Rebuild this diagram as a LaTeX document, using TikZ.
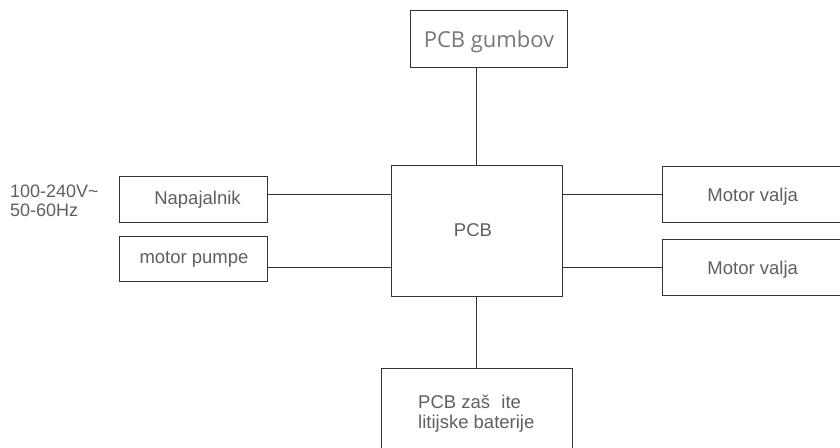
\documentclass[tikz,border=0pt]{standalone}
\usepackage{fontspec}
\setmainfont{Liberation Sans}
\newfontfamily\titlefont{Open Sans}
\definecolor{edgec}{HTML}{333333}
\definecolor{textc}{HTML}{5F5F5F}
\definecolor{lighttext}{HTML}{777777}
\begin{document}
\begin{tikzpicture}[x=1pt,y=-1pt,
  box/.style={draw=edgec, line width=1pt, rectangle, inner sep=0pt},
  lbl/.style={text=textc, font=\fontsize{18.5}{19.5}\selectfont, inner sep=0pt, anchor=base},
  link/.style={draw=edgec, line width=1pt}]
\useasboundingbox (0,0) rectangle (840,447);
\clip (0,0) rectangle (840,447);
% boxes
\node[box, minimum width=157pt, minimum height=57pt] (gumb) at (488.5,38.5) {};
\node[box, minimum width=171pt, minimum height=131pt] (pcb) at (476.5,230.5) {};
\node[box, minimum width=148pt, minimum height=46pt] (napa) at (193,199) {};
\node[box, minimum width=148pt, minimum height=45pt] (pump) at (193,258.5) {};
\node[box, minimum width=180pt, minimum height=56pt] (mv1) at (752,194) {};
\node[box, minimum width=180pt, minimum height=56pt] (mv2) at (752,267) {};
\node[box, minimum width=191pt, minimum height=100pt] (bat) at (476.5,418) {};
% labels
\node[lbl, text=lighttext, font=\titlefont\fontsize{22}{26}\selectfont] (gumbt) at (489,47.3) {PCB gumbov};
\node[lbl] (pcbt) at (473,236.7) {PCB};
\node[lbl] (napat) at (197.5,204.7) {Napajalnik};
\node[lbl] (pumpt) at (194,263) {motor pumpe};
\node[lbl] (mv1t) at (752.7,201) {Motor valja};
\node[lbl] (mv2t) at (752.7,274) {Motor valja};
\node[lbl, align=left, anchor=base west] (battext) at (418,428) {PCB zaš\,\, ite\\litijske baterije};
\node[lbl, font=\fontsize{18}{19}\selectfont, align=left, anchor=base west] (volt) at (10,216.7) {100-240V\textasciitilde\\50-60Hz};
% connectors
\draw[link] (pcb.north |- gumb.south) -- (pcb.north);
\draw[link] (pcb.south) -- (bat.north);
\draw[link] (napa.east |- 0,194) -- (pcb.west |- 0,194);
\draw[link] (pump.east |- 0,267) -- (pcb.west |- 0,267);
\draw[link] (pcb.east |- mv1.west) -- (mv1.west);
\draw[link] (pcb.east |- mv2.west) -- (mv2.west);
\end{tikzpicture}
\end{document}
